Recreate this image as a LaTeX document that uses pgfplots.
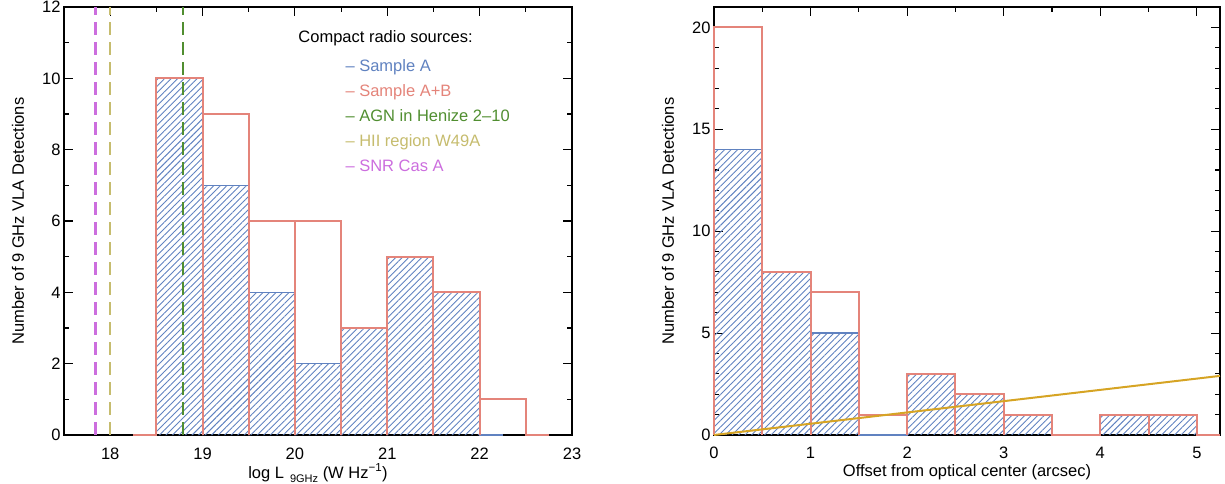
\documentclass[border=0pt]{standalone}
\usepackage{fontspec}
\setmainfont{Liberation Sans}
\usepackage{pgfplots}
\pgfplotsset{compat=1.18}
\usetikzlibrary{patterns.meta}
\definecolor{hblue}{RGB}{96,130,192}
\definecolor{hred}{RGB}{228,132,122}
\definecolor{hgreen}{RGB}{80,142,48}
\definecolor{holive}{RGB}{198,188,110}
\definecolor{hpurple}{RGB}{204,110,222}
\definecolor{horange}{RGB}{214,164,36}
\newcommand{\lfont}{\fontsize{16.5bp}{19bp}\selectfont}
\pgfplotsset{
  myax/.style={
    scale only axis, clip=false,
    tick align=inside,
    major tick length=9bp, minor tick length=5bp,
    every tick/.style={black, line width=1.1bp},
    axis line style={line width=1.5bp},
    /pgf/number format/assume math mode=true,
    tick label style={font=\lfont},
    label style={font=\lfont},
    xticklabel style={anchor=base, yshift=-24bp},
    every axis y label/.style={at={(axis description cs:-0.0906,0.5)}, rotate=90, anchor=center},
    every axis x label/.style={at={(axis description cs:0.5,-0.1005)}, anchor=base},
    ylabel={Number of 9 GHz VLA Detections},
  },
  hA/.style={draw=hblue, line width=1.6bp, pattern={Lines[angle=45,distance=4.6bp,line width=0.9bp]}, pattern color=hblue},
  hAB/.style={draw=hred, line width=2bp},
  vdash/.style={line width=2.5bp, dash pattern=on 13bp off 7bp},
}
\begin{document}
\begin{tikzpicture}[font=\lfont]
\path[use as bounding box] (0,0) rectangle (1225bp,484bp);
% ---------------- left panel ----------------
\begin{axis}[myax,
  at={(64bp,49bp)}, anchor=south west,
  width=508bp, height=428bp,
  xmin=17.5, xmax=23, ymin=0, ymax=12,
  xtick={18,19,20,21,22,23}, minor x tick num=1,
  ytick={0,2,4,6,8,10,12}, minor y tick num=1,
  xlabel={log L\hspace{6bp}\raisebox{-4bp}{\fontsize{11bp}{12bp}\selectfont 9GHz} (W Hz\textsuperscript{\symbol{"2212}1})},
]
\addplot[hA] coordinates {(18.25,0)(18.5,0)(18.5,10)(19,10)(19,0)(19,7)(19.5,7)(19.5,0)(19.5,4)(20,4)(20,0)(20,2)(20.5,2)(20.5,0)(20.5,3)(21,3)(21,0)(21,5)(21.5,5)(21.5,0)(21.5,4)(22,4)(22,0)(22.25,0)};
\addplot[hAB] coordinates {(18.25,0)(18.5,0)(18.5,10)(19,10)(19,0)(19,9)(19.5,9)(19.5,0)(19.5,6)(20,6)(20,0)(20,6)(20.5,6)(20.5,0)(20.5,3)(21,3)(21,0)(21,5)(21.5,5)(21.5,0)(21.5,4)(22,4)(22,0)(22,1)(22.5,1)(22.5,0)(22.75,0)};
\addplot[hpurple, vdash] coordinates {(17.84,0)(17.84,12)};
\addplot[holive, vdash] coordinates {(18.0,0)(18.0,12)};
\addplot[hgreen, vdash] coordinates {(18.79,0)(18.79,12)};
\node[anchor=base west, black] at (axis cs:20.0,11.0) {Compact radio sources:};
\node[anchor=base west, text=hblue] at (axis cs:20.51,10.2) {-- Sample A};
\node[anchor=base west, text=hred] at (axis cs:20.51,9.5) {-- Sample A+B};
\node[anchor=base west, text=hgreen] at (axis cs:20.51,8.8) {-- AGN in Henize 2--10};
\node[anchor=base west, text=holive] at (axis cs:20.51,8.1) {-- HII region W49A};
\node[anchor=base west, text=hpurple] at (axis cs:20.51,7.4) {-- SNR Cas A};
\end{axis}
% ---------------- right panel ----------------
\begin{axis}[myax,
  at={(714bp,49bp)}, anchor=south west,
  width=506bp, height=428bp,
  xmin=0, xmax=5.24, ymin=0, ymax=21,
  xtick={0,1,2,3,4,5}, minor x tick num=1,
  ytick={0,5,10,15,20}, minor y tick num=4,
  every axis y label/.style={at={(axis description cs:-0.0909,0.5)}, rotate=90, anchor=center},
  every axis x label/.style={at={(axis description cs:0.5,-0.098)}, anchor=base},
  xlabel={Offset from optical center (arcsec)},
]
\addplot[hA] coordinates {(0,0)(0,14)(0.5,14)(0.5,0)(0.5,8)(1,8)(1,0)(1,5)(1.5,5)(1.5,0)(2,0)(2,3)(2.5,3)(2.5,0)(2.5,2)(3,2)(3,0)(3,1)(3.5,1)(3.5,0)(4,0)(4,1)(4.5,1)(4.5,0)(4.5,1)(5,1)(5,0)(5.24,0)};
\addplot[hAB] coordinates {(0,0)(0,20)(0.5,20)(0.5,0)(0.5,8)(1,8)(1,0)(1,7)(1.5,7)(1.5,0)(1.5,1)(2,1)(2,0)(2,3)(2.5,3)(2.5,0)(2.5,2)(3,2)(3,0)(3,1)(3.5,1)(3.5,0)(4,0)(4,1)(4.5,1)(4.5,0)(4.5,1)(5,1)(5,0)(5.24,0)};
\addplot[horange, line width=2bp] coordinates {(0,0)(5.24,2.9)};
\end{axis}
\end{tikzpicture}
\end{document}
